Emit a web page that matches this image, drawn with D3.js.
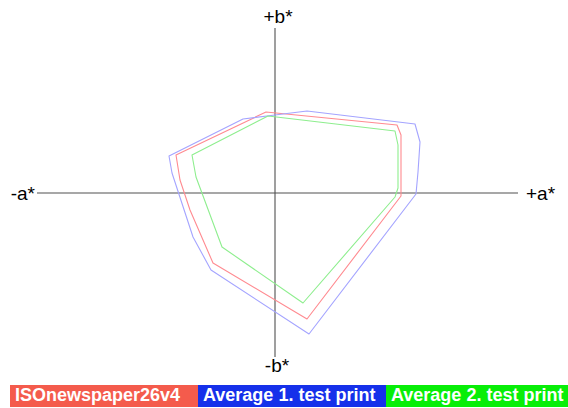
<!DOCTYPE html>
<html><head><meta charset="utf-8">
<script src="https://cdn.jsdelivr.net/npm/d3@7"></script>
<style>
html,body{margin:0;padding:0;background:#fff;}
svg{display:block;font-family:"Liberation Sans",Arial,Helvetica,sans-serif;}
</style></head>
<body><svg id="c" width="568" height="408"></svg>
<script>
// series names
const seriesNames = ["ISOnewspaper26v4", "Average 1. test print", "Average 2. test print"];
// gamut outlines as [a*, b*] pairs
const isoNewspaper = [[-4.5,40.5],[61,34],[63,29],[63,-1.5],[16,-63],[-31,-35],[-42.5,-8.5],[-47.5,6.5],[-49.5,19]];
const testPrint1 = [[16,41],[70,34.5],[72.5,25.5],[71.5,10.5],[70.5,-0.5],[17,-70.5],[-32,-38.5],[-41,-22],[-51.5,10],[-53,18.5],[-16,37],[0,39]];
const testPrint2 = [[-3.5,38.5],[60,31],[61.5,24],[61.5,2.5],[60,-2],[14,-55],[-26.5,-27],[-39.5,8],[-41.5,19]];
// axis extents and labels
const aExtent = [-119, 121.5];
const bExtent = [-82, 82.5];
const axisLabels = {negA:"-a*", posA:"+a*", posB:"+b*", negB:"-b*"};

const lineColors = ["#ff8a90", "#a4a4ff", "#8eee8e"];
const legendColors = ["#f45b4c", "#1530ea", "#08ee08"];

const svg = d3.select("#c");
const x = d3.scaleLinear().domain([-100, 100]).range([75, 475]);
const y = d3.scaleLinear().domain([-100, 100]).range([393, -7]);

// axes
svg.append("line").attr("x1", x(aExtent[0])).attr("x2", x(aExtent[1]))
  .attr("y1", y(0)).attr("y2", y(0)).attr("stroke", "#505050").attr("stroke-width", 1.1);
svg.append("line").attr("x1", x(0)).attr("x2", x(0))
  .attr("y1", y(bExtent[1])).attr("y2", y(bExtent[0])).attr("stroke", "#505050").attr("stroke-width", 1.1);

const lab = svg.append("g").attr("font-size", 19).attr("fill", "#000");
lab.append("text").attr("x", x(aExtent[0]) - 2).attr("y", y(0) + 7).attr("text-anchor", "end").text(axisLabels.negA);
lab.append("text").attr("x", x(aExtent[1]) + 8).attr("y", y(0) + 7).attr("text-anchor", "start").text(axisLabels.posA);
lab.append("text").attr("x", x(0) + 3).attr("y", y(bExtent[1]) - 5).attr("text-anchor", "middle").text(axisLabels.posB);
lab.append("text").attr("x", x(0) + 2).attr("y", y(bExtent[0]) + 15).attr("text-anchor", "middle").text(axisLabels.negB);

// polygons
const line = d3.line().x(d => x(d[0])).y(d => y(d[1])).curve(d3.curveLinearClosed);
[isoNewspaper, testPrint1, testPrint2].forEach((s, i) => {
  svg.append("path").attr("d", line(s)).attr("fill", "none")
    .attr("stroke", lineColors[i]).attr("stroke-width", 1.1).attr("stroke-linejoin", "round");
});

// legend
const legX = d3.scaleBand().domain(seriesNames).range([10, 574]);
const leg = svg.append("g");
seriesNames.forEach((n, i) => {
  leg.append("rect").attr("x", legX(n)).attr("y", 385).attr("width", legX.bandwidth()).attr("height", 22).attr("fill", legendColors[i]);
  leg.append("text").attr("x", legX(n) + 5).attr("y", 401).attr("font-size", 18).attr("font-weight", "bold")
    .attr("fill", "#fff").text(n);
});
</script></body></html>
